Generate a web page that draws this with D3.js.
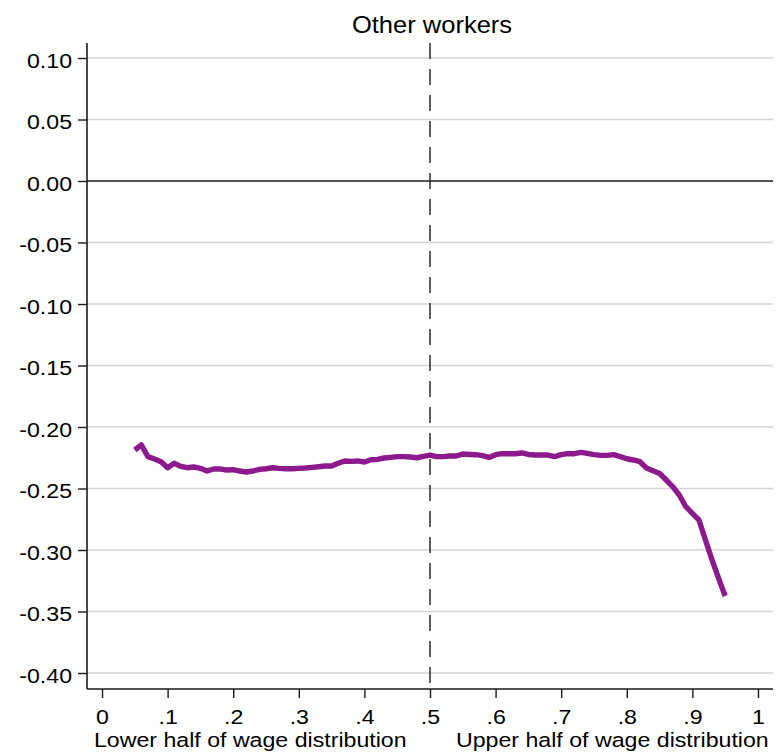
<!DOCTYPE html>
<html>
<head>
<meta charset="utf-8">
<script src="https://cdn.jsdelivr.net/npm/d3@7"></script>
<style>
  html, body { margin: 0; padding: 0; background: #fff; }
  svg { display: block; }
  text { font-family: "Liberation Sans", Arial, Helvetica, sans-serif; fill: #000; }
</style>
</head>
<body>
<script>
// Wage percentile (0.05 ... 0.95) and estimated effect for other workers
const percentiles = d3.range(5, 96).map(p => p / 100);
const effect = [
  -0.2187, -0.2146, -0.2241, -0.2260, -0.2282, -0.2331, -0.2295, -0.2320, -0.2331, -0.2325,
  -0.2336, -0.2358, -0.2341, -0.2341, -0.2350, -0.2347, -0.2358, -0.2366, -0.2358, -0.2344,
  -0.2339, -0.2331, -0.2336, -0.2339, -0.2339, -0.2336, -0.2333, -0.2328, -0.2323, -0.2317,
  -0.2317, -0.2295, -0.2276, -0.2279, -0.2276, -0.2285, -0.2266, -0.2263, -0.2252, -0.2247,
  -0.2241, -0.2241, -0.2244, -0.2250, -0.2238, -0.2228, -0.2241, -0.2241, -0.2236, -0.2236,
  -0.2220, -0.2223, -0.2225, -0.2233, -0.2247, -0.2225, -0.2217, -0.2217, -0.2217, -0.2211,
  -0.2223, -0.2228, -0.2228, -0.2228, -0.2241, -0.2225, -0.2217, -0.2217, -0.2206, -0.2214,
  -0.2225, -0.2231, -0.2231, -0.2225, -0.2241, -0.2258, -0.2268, -0.2282, -0.2333, -0.2355,
  -0.2377, -0.2431, -0.2485, -0.2553, -0.2648, -0.2702, -0.2756, -0.2919, -0.3081, -0.3230,
  -0.3374
];

const yTicks = [0.10, 0.05, 0.00, -0.05, -0.10, -0.15, -0.20, -0.25, -0.30, -0.35, -0.40];
const yTickLabels = ["0.10", "0.05", "0.00", "-0.05", "-0.10", "-0.15", "-0.20", "-0.25", "-0.30", "-0.35", "-0.40"];
const xTicks = [0, 0.1, 0.2, 0.3, 0.4, 0.5, 0.6, 0.7, 0.8, 0.9, 1];
const xTickLabels = ["0", ".1", ".2", ".3", ".4", ".5", ".6", ".7", ".8", ".9", "1"];
const titleText = "Other workers";
const splitAt = 0.5;
const halfLabels = [
  { x: 0.226, text: "Lower half of wage distribution" },
  { x: 0.778, text: "Upper half of wage distribution" }
];

const W = 777, H = 755;
const plotL = 87, plotR = 773, plotT = 43, plotB = 689;
const SX = 1.13; // horizontal stretch of the lettering

const svg = d3.select("body").append("svg").attr("width", W).attr("height", H);

const x = d3.scaleLinear().domain([-0.0229, 1.0229]).range([plotL, plotR]);
const y = d3.scaleLinear().domain([-0.4130, 0.1122]).range([plotB, plotT]);

// horizontal grid lines
svg.append("g").selectAll("line")
  .data(yTicks.filter(t => t !== 0))
  .join("line")
  .attr("x1", plotL).attr("x2", plotR)
  .attr("y1", d => y(d)).attr("y2", d => y(d))
  .attr("stroke", "#d4d4d4").attr("stroke-width", 1.4);

// reference line at zero
svg.append("line")
  .attr("x1", plotL).attr("x2", plotR)
  .attr("y1", y(0)).attr("y2", y(0))
  .attr("stroke", "#1a1a1a").attr("stroke-width", 1.6);

// dashed divider between the two halves
svg.append("line")
  .attr("x1", x(splitAt)).attr("x2", x(splitAt))
  .attr("y1", plotT).attr("y2", plotB)
  .attr("stroke", "#2a2a2a").attr("stroke-width", 1.5)
  .attr("stroke-dasharray", "16,10");

// y axis
const yAxis = svg.append("g")
  .attr("transform", `translate(${plotL},0)`)
  .call(d3.axisLeft(y).tickValues(yTicks).tickSize(9).tickFormat((d, i) => yTickLabels[i]));
yAxis.select(".domain").attr("d", `M0,${plotT}V${plotB}`).attr("stroke", "#1a1a1a").attr("stroke-width", 1.6);
yAxis.selectAll(".tick line").attr("stroke", "#1a1a1a").attr("stroke-width", 1.4);
yAxis.selectAll(".tick text")
  .attr("font-size", 20.5)
  .attr("fill", "#000")
  .attr("x", -15 / SX)
  .attr("dy", "0.44em")
  .attr("transform", `scale(${SX},1)`)
  .style("font-family", '"Liberation Sans", Arial, sans-serif');

// x axis
const xAxis = svg.append("g")
  .attr("transform", `translate(0,${plotB})`)
  .call(d3.axisBottom(x).tickValues(xTicks).tickSize(9).tickFormat((d, i) => xTickLabels[i]));
xAxis.select(".domain").attr("d", `M${plotL},0H${plotR}`).attr("stroke", "#1a1a1a").attr("stroke-width", 1.6);
xAxis.selectAll(".tick line").attr("stroke", "#1a1a1a").attr("stroke-width", 1.4);
xAxis.selectAll(".tick text")
  .attr("font-size", 20.5)
  .attr("fill", "#000")
  .attr("y", 35)
  .attr("dy", 0)
  .attr("transform", `scale(${SX},1)`)
  .style("font-family", '"Liberation Sans", Arial, sans-serif');

// labels under the axis for each half
svg.append("g").selectAll("text")
  .data(halfLabels)
  .join("text")
  .attr("transform", d => `translate(${x(d.x)},747) scale(${SX},1)`)
  .attr("text-anchor", "middle")
  .attr("font-size", 20.5)
  .text(d => d.text);

// title
svg.append("text")
  .attr("transform", `translate(${(plotL + plotR) / 2 + 2},33) scale(1.11,1)`)
  .attr("text-anchor", "middle")
  .attr("font-size", 23)
  .text(titleText);

// effect curve
const line = d3.line()
  .x((d, i) => x(percentiles[i]))
  .y(d => y(d));
svg.append("path")
  .datum(effect)
  .attr("d", line)
  .attr("fill", "none")
  .attr("stroke", "#8c1a8c")
  .attr("stroke-width", 5.4)
  .attr("stroke-linejoin", "round")
  .attr("stroke-linecap", "butt");
</script>
</body>
</html>
